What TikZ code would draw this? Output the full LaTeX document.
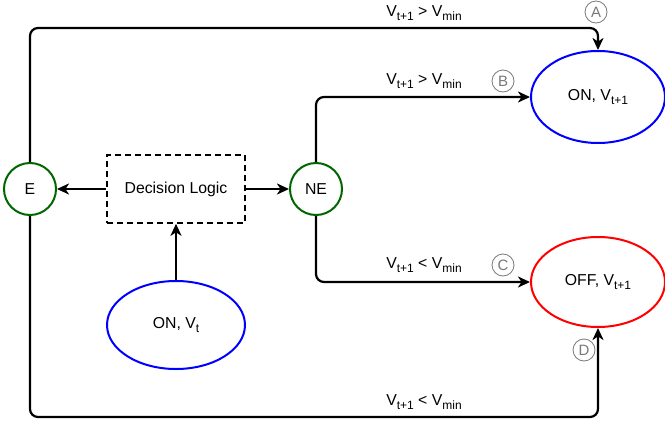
\documentclass[tikz,border=0pt]{standalone}
\usepackage{fontspec}
\setmainfont{Liberation Sans}
\usetikzlibrary{shapes.geometric,arrows.meta}
\definecolor{dgreen}{RGB}{0,102,0}
\definecolor{mgray}{RGB}{120,120,120}
\newcommand\lsub[1]{\raisebox{-0.45ex}{\fontsize{12}{12}\selectfont #1}}
\begin{document}
\begin{tikzpicture}[x=1pt,y=-1pt,
  every node/.style={font=\fontsize{15.8}{18}\selectfont},
  stateov/.style={ellipse, draw, line width=2pt, minimum width=134pt, minimum height=90pt, inner sep=0pt},
  envc/.style={circle, draw=dgreen, line width=2pt, minimum size=52pt, inner sep=0pt},
  logicbox/.style={draw, dashed, dash pattern=on 6pt off 4pt, line width=1.6pt, minimum width=138pt, minimum height=68pt, inner sep=0pt},
  conn/.style={draw, line width=2.2pt, rounded corners=8pt, -{Stealth[length=12pt,width=11pt,inset=3.5pt]}},
  mark letter/.style={circle, draw=mgray, line width=0.8pt, minimum size=22pt, inner sep=0pt, text=mgray, font=\fontsize{15}{15}\selectfont},
  cond/.style={inner sep=1pt}
]
\useasboundingbox (0,0) rectangle (665,426);

\node[envc] (E) at (30,189) {E};
\node[envc] (NE) at (316,189) {NE};
\node[logicbox] (DL) at (176,189) {Decision Logic};
\node[stateov, draw=blue, minimum width=138pt, minimum height=88pt] (onvt) at (176,325) {ON, V\lsub{t}};
\node[stateov, draw=blue, minimum height=92pt] (on1) at (598,97) {ON, V\lsub{t+1}};
\node[stateov, draw=red] (off1) at (598,282) {OFF, V\lsub{t+1}};

\coordinate (ya) at (0,28);
\coordinate (yd) at (0,417);

\draw[conn] (DL.west) -- (E.east);
\draw[conn] (DL.east) -- (NE.west);
\draw[conn] (onvt.north) -- (DL.south);
\draw[conn] (E.north) -- (E.north |- ya) -- (on1.north |- ya) -- (on1.north);
\draw[conn] (NE.north) |- (on1.west);
\draw[conn] (NE.south) |- (off1.west);
\draw[conn] (E.south) -- (E.south |- yd) -- (off1.south |- yd) -- (off1.south);

\node[cond] (la) at (424,13) {V\lsub{t+1} > V\lsub{min}};
\node[cond] (lb) at (424,81) {V\lsub{t+1} > V\lsub{min}};
\node[cond] (lc) at (424,265) {V\lsub{t+1} < V\lsub{min}};
\node[cond] (ld) at (424,402) {V\lsub{t+1} < V\lsub{min}};

\node[mark letter] (mA) at (596,12) {A};
\node[mark letter] (mB) at (503,81) {B};
\node[mark letter] (mC) at (503,265) {C};
\node[mark letter] (mD) at (584,350) {D};
\end{tikzpicture}
\end{document}
